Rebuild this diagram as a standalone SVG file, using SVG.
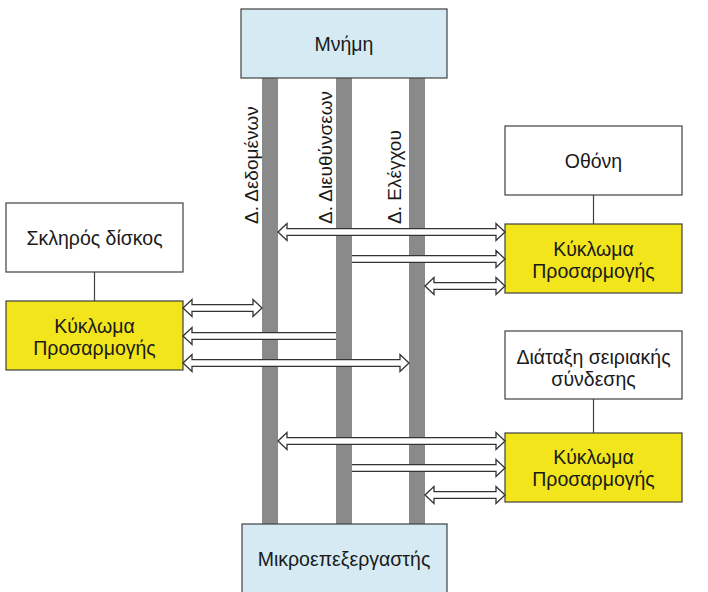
<svg xmlns="http://www.w3.org/2000/svg" width="708" height="592" viewBox="0 0 708 592">
<style>
.box{fill:#ffffff;stroke:#404040;stroke-width:1.2}
.blue{fill:#d5eaf3;stroke:#404040;stroke-width:1.2}
.yel{fill:#f2e51c;stroke:#404040;stroke-width:1.2}
.bus{fill:#8a8a8a}
.t{font-family:"Liberation Sans",Arial,sans-serif;font-size:19.5px;fill:#1a1a1a;text-anchor:middle}
.vt{font-family:"Liberation Sans",Arial,sans-serif;font-size:19px;fill:#1a1a1a;text-anchor:start}
.ln{stroke:#404040;stroke-width:1.2;fill:none}
.arr{fill:#ffffff;stroke:#333333;stroke-width:1.3;stroke-linejoin:miter}
</style>
<rect x="0" y="0" width="708" height="592" fill="#ffffff"/>
<g id="buses">
<rect class="bus" x="262" y="78" width="16" height="446"/>
<rect class="bus" x="336" y="78" width="16" height="446"/>
<rect class="bus" x="409" y="78" width="16" height="446"/>
<text class="vt" transform="translate(258,224) rotate(-90)">Δ. Δεδομένων</text>
<text class="vt" transform="translate(332,224) rotate(-90)">Δ. Διευθύνσεων</text>
<text class="vt" transform="translate(401,224) rotate(-90)">Δ. Ελέγχου</text>
</g>
<g id="memory">
<rect class="blue" x="241" y="9" width="206" height="69"/>
<text class="t" x="344" y="51">Μνήμη</text>
</g>
<g id="cpu">
<rect class="blue" x="242" y="524" width="205" height="80"/>
<text class="t" x="344" y="566">Μικροεπεξεργαστής</text>
</g>
<g id="disk">
<rect class="box" x="6" y="203" width="177" height="69"/>
<text class="t" x="94.5" y="245">Σκληρός δίσκος</text>
</g>
<g id="adapter-disk">
<rect class="yel" x="6" y="301" width="177" height="69"/>
<text class="t" x="94.5" y="333">Κύκλωμα</text>
<text class="t" x="94.5" y="355">Προσαρμογής</text>
</g>
<g id="screen">
<rect class="box" x="505" y="126" width="177" height="69"/>
<text class="t" x="593.5" y="168">Οθόνη</text>
</g>
<g id="adapter-screen">
<rect class="yel" x="505" y="224" width="177" height="69"/>
<text class="t" x="593.5" y="256">Κύκλωμα</text>
<text class="t" x="593.5" y="278">Προσαρμογής</text>
</g>
<g id="serial">
<rect class="box" x="505" y="331" width="177" height="68"/>
<text class="t" x="593.5" y="364">Διάταξη σειριακής</text>
<text class="t" x="593.5" y="386">σύνδεσης</text>
</g>
<g id="adapter-serial">
<rect class="yel" x="505" y="433" width="177" height="69"/>
<text class="t" x="593.5" y="464">Κύκλωμα</text>
<text class="t" x="593.5" y="486">Προσαρμογής</text>
</g>
<g id="connectors">
<line class="ln" x1="94.5" y1="272" x2="94.5" y2="301"/>
<line class="ln" x1="593.5" y1="195" x2="593.5" y2="224"/>
<line class="ln" x1="593.5" y1="399" x2="593.5" y2="433"/>
<path class="arr" d="M278,232 L287,223.5 L287,228.7 L496,228.7 L496,223.5 L505,232 L496,240.5 L496,235.3 L287,235.3 L287,240.5 Z"/>
<path class="arr" d="M352,255.7 L496,255.7 L496,250.5 L505,259 L496,267.5 L496,262.3 L352,262.3"/>
<path class="arr" d="M425,286 L434,277.5 L434,282.7 L496,282.7 L496,277.5 L505,286 L496,294.5 L496,289.3 L434,289.3 L434,294.5 Z"/>
<path class="arr" d="M183,308 L192,299.5 L192,304.7 L253,304.7 L253,299.5 L262,308 L253,316.5 L253,311.3 L192,311.3 L192,316.5 Z"/>
<path class="arr" d="M336,332.7 L192,332.7 L192,327.5 L183,336 L192,344.5 L192,339.3 L336,339.3"/>
<path class="arr" d="M183,363 L192,354.5 L192,359.7 L400,359.7 L400,354.5 L409,363 L400,371.5 L400,366.3 L192,366.3 L192,371.5 Z"/>
<path class="arr" d="M278,441 L287,432.5 L287,437.7 L496,437.7 L496,432.5 L505,441 L496,449.5 L496,444.3 L287,444.3 L287,449.5 Z"/>
<path class="arr" d="M352,464.7 L496,464.7 L496,459.5 L505,468 L496,476.5 L496,471.3 L352,471.3"/>
<path class="arr" d="M425,495 L434,486.5 L434,491.7 L496,491.7 L496,486.5 L505,495 L496,503.5 L496,498.3 L434,498.3 L434,503.5 Z"/>
</g>
</svg>
